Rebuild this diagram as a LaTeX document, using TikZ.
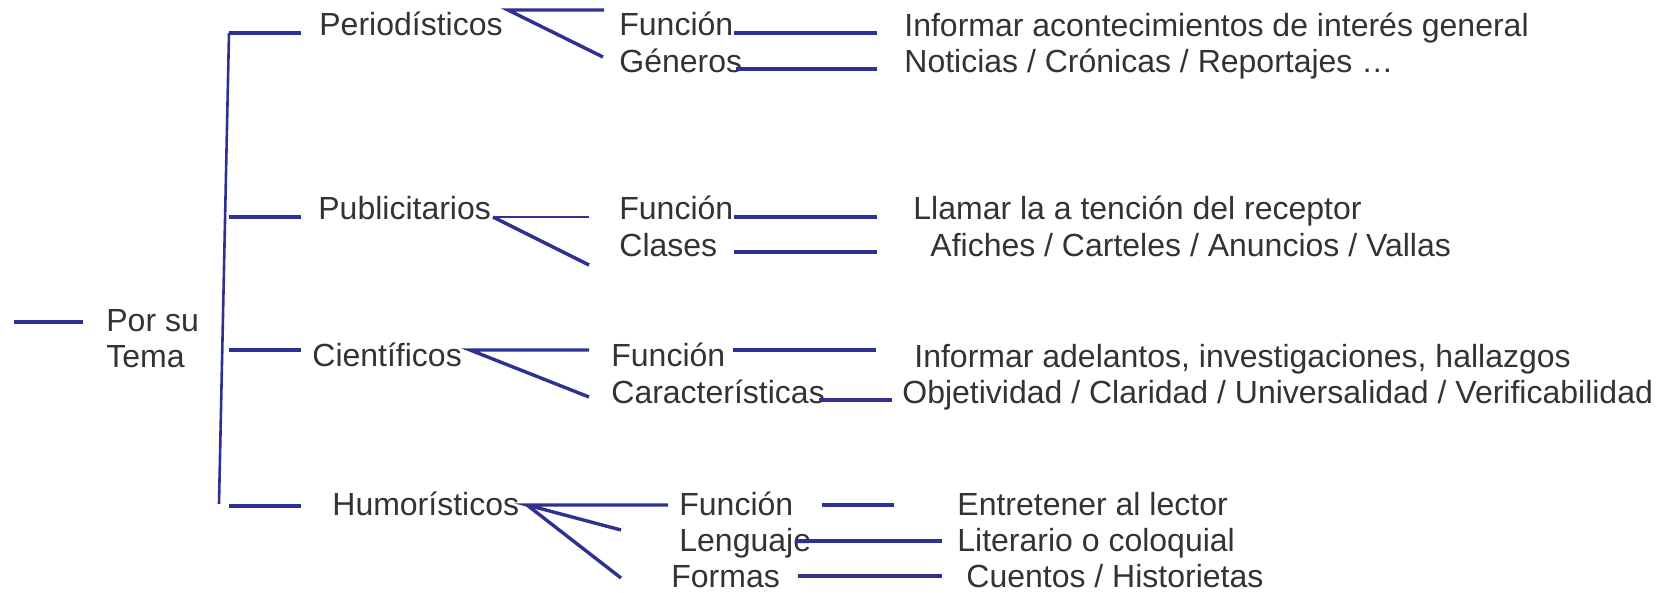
\documentclass[tikz,border=0pt]{standalone}
\usepackage{fontspec}
\setmainfont{Liberation Sans}
\definecolor{ln}{RGB}{46,49,146}
\definecolor{tx}{RGB}{51,51,51}
\tikzset{
  lbl/.style={anchor=base west, inner sep=0pt, text=tx, font=\fontsize{16pt}{19pt}\selectfont},
  link/.style={draw=ln, line width=1.7pt},
  thinlink/.style={draw=ln, line width=0.9pt},
  spine/.style={draw=ln, line width=1.3pt}
}
\begin{document}
\begin{tikzpicture}[x=0.5pt,y=-0.5pt]
\useasboundingbox (0,0) rectangle (1678,593);
% texts
\node[lbl] (por) at (106,332) {Por su};
\node[lbl] (tema) at (106,368) {Tema};
\node[lbl] (per) at (319,36) {Periodísticos};
\node[lbl] (pub) at (318,220) {Publicitarios};
\node[lbl] (cie) at (312,367) {Científicos};
\node[lbl] (hum) at (332,516) {Humorísticos};
\node[lbl] (pf) at (619,36) {Función};
\node[lbl] (pg) at (619,73) {Géneros};
\node[lbl] (uf) at (619,220) {Función};
\node[lbl] (uc) at (619,257) {Clases};
\node[lbl] (cf) at (611,367) {Función};
\node[lbl] (cc) at (611,404) {Características};
\node[lbl] (hf) at (679,516) {Función};
\node[lbl] (hl) at (679,552) {Lenguaje};
\node[lbl] (hfo) at (671,588) {Formas};
\node[lbl] (pft) at (904,37) {Informar acontecimientos de interés general};
\node[lbl] (pgt) at (904,73) {Noticias / Crónicas / Reportajes …};
\node[lbl] (uft) at (913,220) {Llamar la a tención del receptor};
\node[lbl] (uct) at (930,257) {Afiches / Carteles / Anuncios / Vallas};
\node[lbl] (cft) at (914,368) {Informar adelantos, investigaciones, hallazgos};
\node[lbl] (cct) at (902,404) {Objetividad / Claridad / Universalidad / Verificabilidad};
\node[lbl] (hft) at (957,516) {Entretener al lector};
\node[lbl] (hlt) at (957,552) {Literario o coloquial};
\node[lbl] (hfot) at (966,588) {Cuentos / Historietas};
% coordinates
\coordinate (r0) at (14,322); \coordinate (r1) at (83,322);
\coordinate (sT) at (229,33); \coordinate (sB) at (219,504);
\coordinate (a1) at (229,33); \coordinate (b1) at (301,33);
\coordinate (a2) at (229,217); \coordinate (b2) at (301,217);
\coordinate (a3) at (229,350); \coordinate (b3) at (301,350);
\coordinate (a4) at (229,506); \coordinate (b4) at (301,506);
% periodisticos fork
\coordinate (pA) at (508,10); \coordinate (pH) at (604,10); \coordinate (pD) at (603,57);
% publicitarios fork
\coordinate (uA) at (493,217); \coordinate (uH) at (589,217); \coordinate (uD) at (589,265);
% cientificos fork
\coordinate (cA) at (470,350); \coordinate (cH) at (589,350); \coordinate (cD) at (589,397);
% humoristicos fork
\coordinate (hA) at (527,505); \coordinate (hH) at (668,505); \coordinate (hM) at (621,530); \coordinate (hD) at (621,578);
% right links
\coordinate (l1a) at (734,33); \coordinate (l1b) at (877,33);
\coordinate (l2a) at (736,69); \coordinate (l2b) at (877,69);
\coordinate (l3a) at (734,217); \coordinate (l3b) at (877,217);
\coordinate (l4a) at (734,252); \coordinate (l4b) at (877,252);
\coordinate (l5a) at (733,350); \coordinate (l5b) at (876,350);
\coordinate (l6a) at (819,400); \coordinate (l6b) at (892,400);
\coordinate (l7a) at (822,505); \coordinate (l7b) at (894,505);
\coordinate (l8a) at (795,541); \coordinate (l8b) at (942,541);
\coordinate (l9a) at (798,576); \coordinate (l9b) at (942,576);
% drawing
\draw[link] (r0) -- (r1);
\draw[spine] (sT) -- (sB);
\draw[link] (a1) -- (b1);
\draw[link] (a2) -- (b2);
\draw[link] (a3) -- (b3);
\draw[link] (a4) -- (b4);
\draw[link] (pH) -- (pA) -- (pD);
\draw[thinlink] (uA) -- (uH);
\draw[link] (uA) -- (uD);
\draw[link] (cH) -- (cA) -- (cD);
\draw[link] (hH) -- (hA) -- (hM);
\draw[link] (hA) -- (hD);
\draw[link] (l1a) -- (l1b);
\draw[link] (l2a) -- (l2b);
\draw[link] (l3a) -- (l3b);
\draw[link] (l4a) -- (l4b);
\draw[link] (l5a) -- (l5b);
\draw[link] (l6a) -- (l6b);
\draw[link] (l7a) -- (l7b);
\draw[link] (l8a) -- (l8b);
\draw[link] (l9a) -- (l9b);
\end{tikzpicture}
\end{document}
